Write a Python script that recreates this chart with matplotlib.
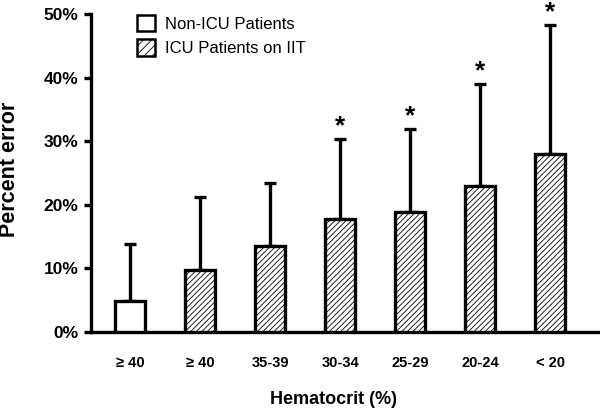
import matplotlib
matplotlib.use("Agg")
import matplotlib.pyplot as plt
from matplotlib.patches import Patch
import numpy as np

plt.rcParams["font.family"] = ["Liberation Sans", "DejaVu Sans"]
plt.rcParams["hatch.linewidth"] = 0.6

categories = ["\u2265 40", "\u2265 40", "35-39", "30-34", "25-29", "20-24", "< 20"]
groups = ["non", "icu", "icu", "icu", "icu", "icu", "icu"]
means = [4.8, 9.7, 13.5, 17.7, 18.9, 23.0, 28.0]
upper = [13.9, 21.3, 23.4, 30.3, 31.9, 39.0, 48.3]
significant = [False, False, False, True, True, True, True]

fig = plt.figure(figsize=(6, 4.08), dpi=100)
ax = fig.add_axes([91 / 600, 1 - 332 / 408, 509 / 600, 318 / 408])

x = np.arange(len(categories))
lw = 2.4
for i in x:
    hatch = None if groups[i] == "non" else "//////"
    ax.bar(i, means[i], width=0.43, facecolor="white", edgecolor="black",
           linewidth=lw, hatch=hatch, zorder=3)
    ax.errorbar(i, means[i], yerr=[[0], [upper[i] - means[i]]], fmt="none",
                ecolor="black", elinewidth=lw, capsize=4, capthick=lw, zorder=2)
    if significant[i]:
        ax.text(i, upper[i] + 0.9, "*", ha="center", va="baseline",
                fontsize=19, fontweight="bold", clip_on=False)

ax.set_xlim(-0.557, 6.71)
ax.set_ylim(0, 50)
ax.set_yticks(np.arange(0, 51, 10))
ax.set_yticklabels([f"{v}%" for v in range(0, 51, 10)], fontsize=12.5, fontweight="bold")
ax.set_xticks(x)
ax.set_xticklabels(categories, fontsize=10.5, fontweight="bold")
ax.tick_params(axis="x", length=0, pad=17)
ax.tick_params(axis="y", length=5, width=lw, pad=4)
for s in ["top", "right"]:
    ax.spines[s].set_visible(False)
for s in ["left", "bottom"]:
    ax.spines[s].set_linewidth(lw)

ax.set_ylabel("Percent error", fontsize=15.5, fontweight="bold")
ax.yaxis.set_label_coords(-0.14, 0.51)
ax.set_xlabel("Hematocrit (%)", fontsize=13, fontweight="bold")
ax.xaxis.set_label_coords(0.477, -0.185)

handles = [Patch(facecolor="white", edgecolor="black", linewidth=1.8),
           Patch(facecolor="white", edgecolor="black", linewidth=1.8, hatch="////")]
ax.legend(handles, ["Non-ICU Patients", "ICU Patients on IIT"], loc="upper left",
          bbox_to_anchor=(0.06, 1.045), frameon=False, fontsize=12,
          handlelength=1.1, handleheight=1.15, handletextpad=0.6, labelspacing=0.45)

fig.savefig("out.png", dpi=100)
